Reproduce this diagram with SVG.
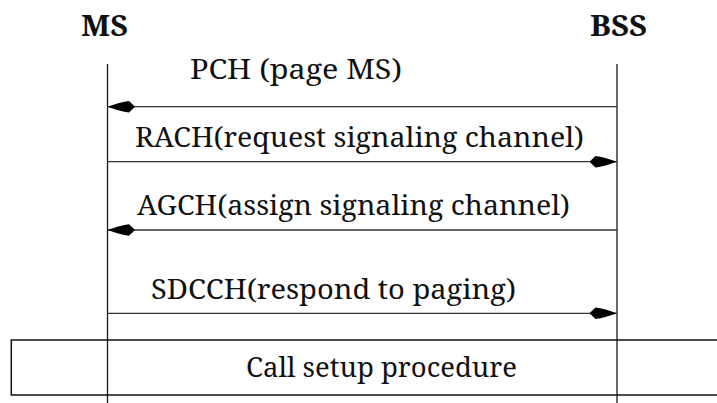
<svg xmlns="http://www.w3.org/2000/svg" width="717" height="403" viewBox="0 0 717 403">
  <style>
    .lifeline { stroke: #1a1a1a; stroke-width: 1.3; fill: none; }
    .msg { stroke: #333; stroke-width: 1.3; fill: none; }
    .box { stroke: #111; stroke-width: 1.5; fill: none; }
    text { font-family: 'Noto Serif', 'DejaVu Serif', serif; font-size: 28px; fill: #111; }
    .hdr { font-weight: bold; }
  </style>
  <defs>
    <marker id="head" markerUnits="userSpaceOnUse" markerWidth="28" markerHeight="12" viewBox="0 0 28 12" refX="27.5" refY="6" orient="auto">
      <path d="M27.5,6 Q15,1.5 6,0.3 L0,6 L6,11.7 Q15,10.5 27.5,6 Z" fill="#000"/>
    </marker>
  </defs>

  <!-- participants -->
  <g id="ms">
    <text class="hdr" x="81" y="36" textLength="47" lengthAdjust="spacingAndGlyphs">MS</text>
    <line class="lifeline" x1="107.5" y1="64" x2="107.5" y2="403"/>
  </g>
  <g id="bss">
    <text class="hdr" x="590" y="36" textLength="57" lengthAdjust="spacingAndGlyphs">BSS</text>
    <line class="lifeline" x1="617" y1="64" x2="617" y2="403"/>
  </g>

  <!-- messages -->
  <g id="connectors">
    <line class="msg" x1="617" y1="106.7" x2="107.5" y2="106.7" marker-end="url(#head)"/>
    <line class="msg" x1="107.5" y1="161.7" x2="617" y2="161.7" marker-end="url(#head)"/>
    <line class="msg" x1="617" y1="230" x2="107.5" y2="230" marker-end="url(#head)"/>
    <line class="msg" x1="107.5" y1="313.3" x2="617" y2="313.3" marker-end="url(#head)"/>
  </g>

  <g id="labels">
    <text x="190" y="79" textLength="212" lengthAdjust="spacingAndGlyphs">PCH (page MS)</text>
    <text x="135" y="147" textLength="449" lengthAdjust="spacingAndGlyphs">RACH(request signaling channel)</text>
    <text x="137" y="215" textLength="433" lengthAdjust="spacingAndGlyphs">AGCH(assign signaling channel)</text>
    <text x="151" y="299" textLength="365" lengthAdjust="spacingAndGlyphs">SDCCH(respond to paging)</text>
  </g>

  <!-- call setup span -->
  <g id="call-setup">
    <rect class="box" x="11.3" y="340" width="720" height="55"/>
    <text x="246" y="377" textLength="271" lengthAdjust="spacingAndGlyphs">Call setup procedure</text>
  </g>
</svg>
